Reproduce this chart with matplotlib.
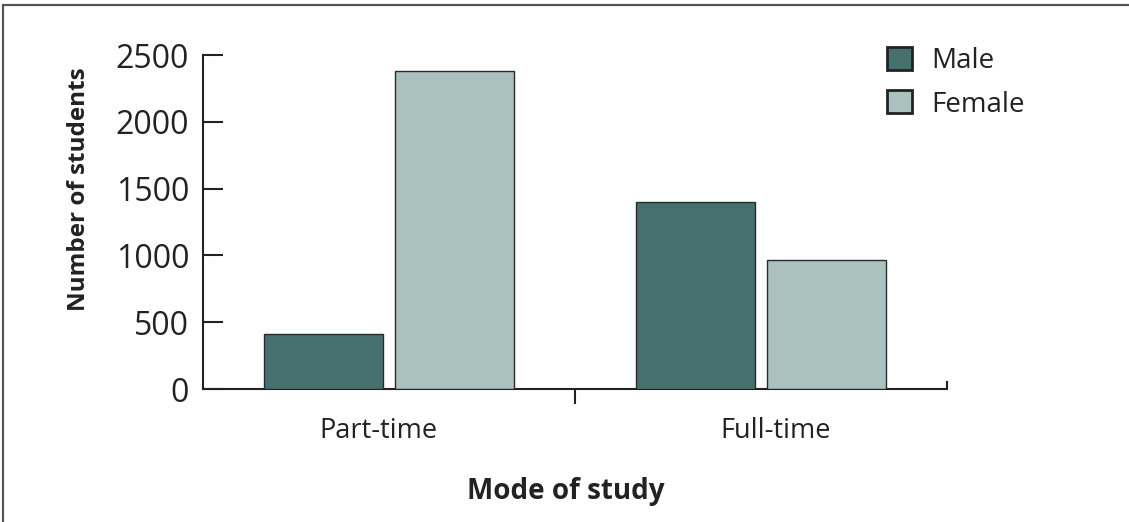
import matplotlib
matplotlib.use("Agg")
import matplotlib.pyplot as plt
from matplotlib.patches import Rectangle
from matplotlib.transforms import ScaledTranslation
import numpy as np

categories = ["Part-time", "Full-time"]
series_names = ["Male", "Female"]
male = [412, 1400]
female = [2380, 968]
yticks = [0, 500, 1000, 1500, 2000, 2500]

plt.rcParams['font.family'] = ['Open Sans', 'DejaVu Sans']

W, H = 1129, 522
fig = plt.figure(figsize=(W/100, H/100), dpi=100)
ax = fig.add_axes([203/W, 1-389/H, (947-203)/W, (389-55)/H])

# outer frame (top and left visible)
fig.patches.append(Rectangle((3/W, -0.2), 1.3, 1.2 - 5/H, transform=fig.transFigure,
                             fill=False, edgecolor='#555555', linewidth=1.6, zorder=0))

x = np.arange(len(categories))
bw = 0.32
off = 0.175
c_male = '#46706e'
c_female = '#abc1bd'
ax.bar(x - off, male, width=bw, color=c_male, edgecolor='#2a2a2a', linewidth=1.0, label=series_names[0], zorder=3)
ax.bar(x + off, female, width=bw, color=c_female, edgecolor='#2a2a2a', linewidth=1.0, label=series_names[1], zorder=3)

ax.set_xlim(-0.5, 1.5)
ax.set_ylim(0, 2500)
ax.set_yticks(yticks)
ax.set_yticklabels([str(v) for v in yticks])

for s in ['top', 'right']:
    ax.spines[s].set_visible(False)
for s in ['left', 'bottom']:
    ax.spines[s].set_linewidth(1.5)
    ax.spines[s].set_color('#222222')

ax.tick_params(axis='y', direction='in', length=14.5, width=1.5, color='#222222',
               labelsize=23, pad=10, labelcolor='#222222')
ax.set_xticks(x)
ax.set_xticklabels([])
ax.tick_params(axis='x', which='major', length=0)
ax.set_xticks([0.5], minor=True)
ax.tick_params(axis='x', which='minor', direction='out', length=11, width=1.5, color='#222222')
# category labels (slightly offset from the group centres, as in the original)
label_shift_px = [-11, 15]
for xi, lab, dx in zip(x, categories, label_shift_px):
    tr = ax.get_xaxis_transform() + ScaledTranslation(dx/100, -28/100, fig.dpi_scale_trans)
    ax.text(xi, 0, lab, transform=tr, ha='center', va='top', fontsize=19.5, color='#222222')
# end tick at right end of the x axis, pointing up
ax.plot([1.5, 1.5], [0, 0.025], transform=ax.get_xaxis_transform(), color='#222222',
        linewidth=1.5, clip_on=False, solid_capstyle='butt')

ax.set_ylabel("Number of students", fontsize=17.5, fontweight='bold', color='#222222')
ax.yaxis.set_label_coords(-0.1506, 0.599)
ax.set_xlabel("Mode of study", fontsize=20, fontweight='bold', color='#222222')
ax.xaxis.set_label_coords(0.488, -0.262)

leg = ax.legend(loc='upper left', bbox_to_anchor=(887/W, 1-47/H), bbox_transform=fig.transFigure,
                frameon=False, fontsize=20, handlelength=0.9, handleheight=0.9,
                handletextpad=0.7, labelspacing=0.55, borderaxespad=0, borderpad=0)
for p in leg.get_patches():
    p.set_linewidth(2.0)
    p.set_edgecolor('#222222')
for t in leg.get_texts():
    t.set_color('#222222')

fig.savefig("out.png", dpi=100)
